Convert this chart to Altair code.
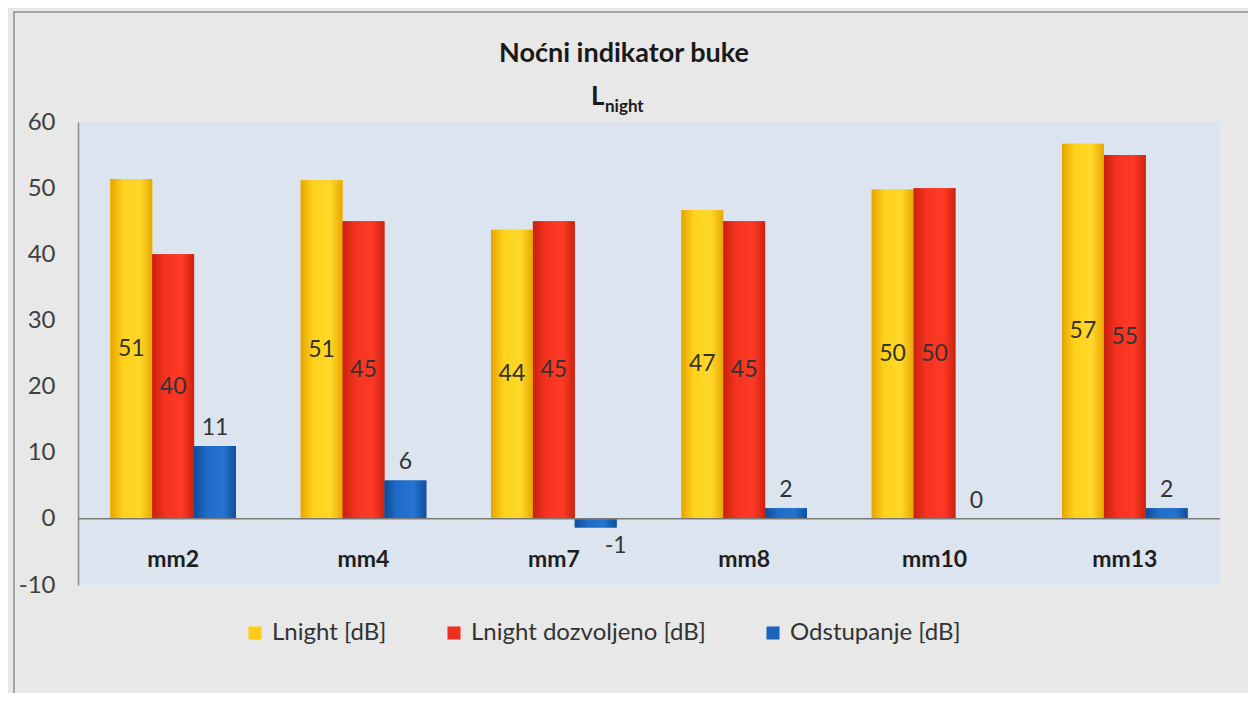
import altair as alt
import pandas as pd

categories = ["mm2", "mm4", "mm7", "mm8", "mm10", "mm13"]
series_names = ["Lnight [dB]", "Lnight dozvoljeno [dB]", "Odstupanje [dB]"]
lnight = [51.4, 51.2, 43.7, 46.7, 49.8, 56.7]
dozvoljeno = [40.0, 45.0, 45.0, 45.0, 50.0, 55.0]
odstupanje = [11.0, 5.8, -1.3, 1.6, 0.0, 1.6]
colors = ["#FFCB14", "#F0301E", "#1B63BD"]
grad_stops = [
    ["#E6A400", "#FFD21C", "#FFD82A", "#E8A800"],
    ["#C8200F", "#F4331F", "#FF3A26", "#CC2210"],
    ["#0E4C98", "#1F6CC8", "#2474D0", "#0F4E9C"],
]
y_ticks = [-10, 0, 10, 20, 30, 40, 50, 60]
title_text = "Noćni indikator buke"
sub_main = "L"
sub_index = "night"

rows = []
for i, c in enumerate(categories):
    for s, vals in zip(series_names, [lnight, dozvoljeno, odstupanje]):
        rows.append({"cat": c, "series": s, "value": vals[i]})
df = pd.DataFrame(rows)

W, H = 1142, 463
FONT = "Lato"

x_enc = alt.X("cat:N", sort=categories,
              scale=alt.Scale(domain=categories, paddingInner=0.34, paddingOuter=0.17),
              axis=None)
xo_enc = alt.XOffset("series:N", sort=series_names,
                     scale=alt.Scale(domain=series_names, paddingInner=0, paddingOuter=0))
y_scale = alt.Scale(domain=[-10, 60], nice=False, zero=False)
y_axis = alt.Axis(values=y_ticks, grid=False, ticks=False, domain=True,
                  domainColor="#8a8a8a", domainWidth=1.5, labelFontSize=24,
                  labelColor="#404040", labelPadding=23, format="d")

base = alt.Chart(df)

bars = base.mark_bar().encode(
    x=x_enc, xOffset=xo_enc,
    y=alt.Y("value:Q", scale=y_scale, axis=y_axis, title=None),
    color=alt.Color("series:N", sort=series_names,
                    scale=alt.Scale(domain=series_names, range=colors),
                    legend=alt.Legend(title=None, orient="none", direction="horizontal",
                                      legendX=165, legendY=499, symbolType="square",
                                      symbolSize=170, symbolStrokeWidth=0,
                                      labelFontSize=24, labelColor="#333333",
                                      labelLimit=0, labelOffset=5, columnPadding=55)),
)

overlays = []
for name, stops in zip(series_names, grad_stops):
    g = alt.Gradient(gradient="linear", x1=0, x2=1, y1=0, y2=0,
                     stops=[alt.GradientStop(color=stops[0], offset=0),
                            alt.GradientStop(color=stops[1], offset=0.3),
                            alt.GradientStop(color=stops[2], offset=0.7),
                            alt.GradientStop(color=stops[3], offset=1)])
    overlays.append(
        base.transform_filter(alt.datum.series == name).mark_bar(color=g).encode(
            x=x_enc, xOffset=xo_enc,
            y=alt.Y("value:Q", scale=y_scale, axis=y_axis, title=None),
        )
    )

zero_rule = alt.Chart(pd.DataFrame({"z": [0]})).mark_rule(
    color="#7a7a7a", strokeWidth=1.5).encode(y=alt.Y("z:Q", scale=y_scale, axis=y_axis, title=None))

mid_labels = base.transform_filter(alt.datum.series != series_names[2]).transform_calculate(
    mid="datum.value / 2").mark_text(fontSize=23, color="#333333").encode(
    x=x_enc, xOffset=xo_enc,
    y=alt.Y("mid:Q", scale=y_scale, axis=y_axis, title=None),
    text=alt.Text("value:Q", format=".0f"),
)

pos_labels = base.transform_filter(
    (alt.datum.series == series_names[2]) & (alt.datum.value >= 0)
).mark_text(fontSize=23, color="#333333", baseline="bottom", dy=-6).encode(
    x=x_enc, xOffset=xo_enc,
    y=alt.Y("value:Q", scale=y_scale, axis=y_axis, title=None),
    text=alt.Text("value:Q", format=".0f"),
)

neg_labels = base.transform_filter(
    (alt.datum.series == series_names[2]) & (alt.datum.value < 0)
).mark_text(fontSize=23, color="#333333", baseline="top", dy=8, dx=20).encode(
    x=x_enc, xOffset=xo_enc,
    y=alt.Y("value:Q", scale=y_scale, axis=y_axis, title=None),
    text=alt.Text("value:Q", format=".0f"),
)

cat_df = pd.DataFrame({"cat": categories, "z": [0] * len(categories)})
cat_labels = alt.Chart(cat_df).mark_text(
    fontSize=23, fontWeight="bold", color="#1e1e1e", baseline="middle", dy=41).encode(
    x=x_enc,
    y=alt.Y("z:Q", scale=y_scale, axis=y_axis, title=None),
    text="cat:N",
)

t_df = pd.DataFrame({"t": [title_text]})
title_mark = alt.Chart(t_df).mark_text(
    fontSize=27, fontWeight="bold", color="#1a1a1a", align="center", baseline="alphabetic").encode(
    text="t:N", x=alt.value(546), y=alt.value(-60))
l_mark = alt.Chart(pd.DataFrame({"t": [sub_main]})).mark_text(
    fontSize=26, fontWeight="bold", color="#1a1a1a", align="left", baseline="alphabetic").encode(
    text="t:N", x=alt.value(513), y=alt.value(-17))
n_mark = alt.Chart(pd.DataFrame({"t": [sub_index]})).mark_text(
    fontSize=17, fontWeight="bold", color="#1a1a1a", align="left", baseline="alphabetic").encode(
    text="t:N", x=alt.value(527), y=alt.value(-10))

border = alt.Chart(pd.DataFrame({"b": [0]})).mark_rect(
    fillOpacity=0, stroke="#8f8f8f", strokeWidth=1.5).encode(
    x=alt.value(-64), x2=alt.value(1200), y=alt.value(-110), y2=alt.value(640))

chart = alt.layer(
    border, bars, *overlays, zero_rule, mid_labels, pos_labels, neg_labels,
    cat_labels, title_mark, l_mark, n_mark,
).properties(
    width=W, height=H,
    autosize=alt.AutoSizeParams(type="none"),
    padding={"left": 70, "top": 114, "right": 28, "bottom": 108},
    background="#e8e8e8",
).configure(
    font=FONT,
    locale={"number": {"decimal": ".", "thousands": ",", "grouping": [3],
                       "currency": ["", ""], "minus": "-"}},
).configure_view(
    stroke=None, fill="#dbe4ef",
)

chart.save("out.html", embed_options={"renderer": "svg", "actions": False})
